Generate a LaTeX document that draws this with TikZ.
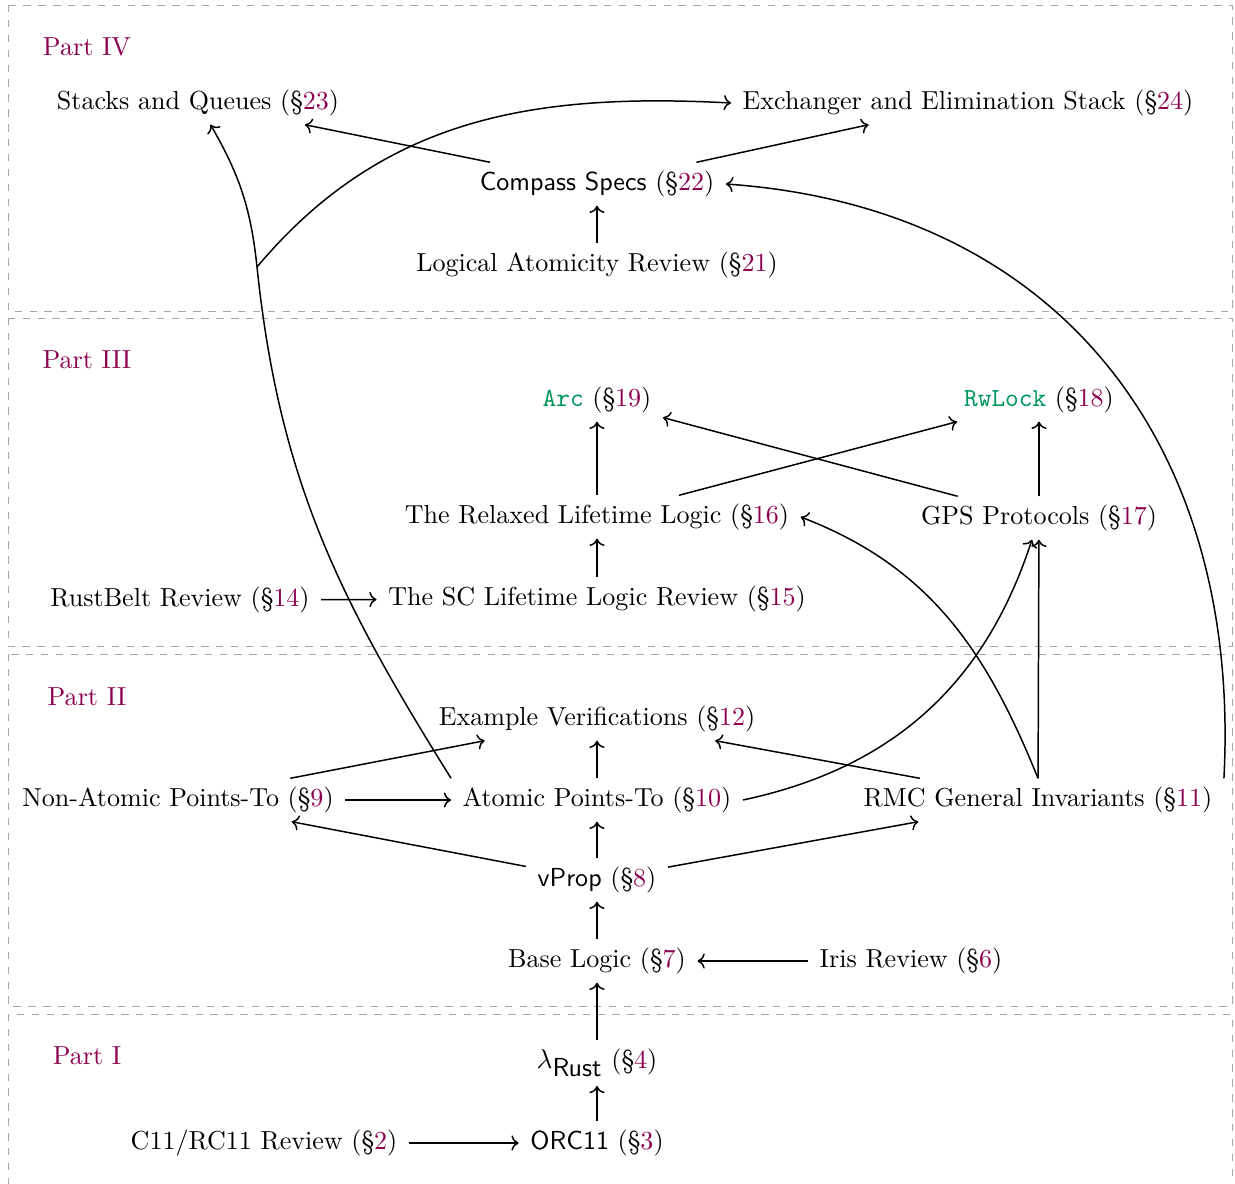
\documentclass[tikz,border=0pt]{standalone}
\usepackage{fontspec}
\usepackage{tikz}
\definecolor{secnum}{RGB}{140,0,80}
\definecolor{codegreen}{RGB}{0,150,90}
\newcommand*{\secn}[1]{(\S\textcolor{secnum}{#1})}
\newcommand*{\code}[1]{\textcolor{codegreen}{\texttt{#1}}}
\usetikzlibrary{arrows.meta}
\tikzstyle{topic} = [inner xsep=4.5pt, inner ysep=3.3pt, font=\fontsize{10.5}{12.6}\selectfont]
\tikzstyle{part} = [topic, text=secnum]
\tikzstyle{partbox} = [draw=black!35, dashed, thin]
\tikzstyle{link} = [->, semithick]

\begin{document}
\begin{tikzpicture}[x=0.403pt, y=0.403pt]
    \useasboundingbox (0,0) rectangle (1235,-1184);
    \clip (0,0) rectangle (1235,-1184);

    % Parts.
    \draw [partbox] (8,-5) rectangle (1232,-311);
    \draw [partbox] (8,-318) rectangle (1232,-646);
    \draw [partbox] (8,-654) rectangle (1232,-1006);
    \draw [partbox] (8,-1014) rectangle (1232,-1220);
    \node (part4) [part] at (87,-47) {Part IV};
    \node (part3) [part] at (87,-360) {Part III};
    \node (part2) [part] at (87,-697) {Part II};
    \node (part1) [part] at (87,-1056) {Part I};

    % Part IV.
    \node (stacks) [topic] at (198,-103) {Stacks and Queues \secn{23}};
    \node (exch) [topic] at (968,-103) {Exchanger and Elimination Stack \secn{24}};
    \node (compass) [topic] at (597,-184) {\textsf{Compass Specs} \secn{22}};
    \node (logat) [topic] at (597,-265) {Logical Atomicity Review \secn{21}};

    % Part III.
    \node (arc) [topic] at (597,-400) {\code{Arc} \secn{19}};
    \node (rwlock) [topic] at (1039,-400) {\code{RwLock} \secn{18}};
    \node (relaxed) [topic] at (597,-517) {The Relaxed Lifetime Logic \secn{16}};
    \node (gps) [topic] at (1039,-518) {GPS Protocols \secn{17}};
    \node (rustbelt) [topic] at (180,-600) {RustBelt Review \secn{14}};
    \node (sclt) [topic] at (597,-599) {The SC Lifetime Logic Review \secn{15}};

    % Part II.
    \node (examples) [topic] at (597,-719) {Example Verifications \secn{12}};
    \node (nonatomic) [topic] at (178,-800) {Non-Atomic Points-To \secn{9}};
    \node (atomic) [topic] at (597,-800) {Atomic Points-To \secn{10}};
    \node (rmc) [topic] at (1038,-800) {RMC General Invariants \secn{11}};
    \node (vprop) [topic] at (597,-880) {\textsf{vProp} \secn{8}};
    \node (baselogic) [topic] at (597,-961) {Base Logic \secn{7}};
    \node (iris) [topic] at (911,-961) {Iris Review \secn{6}};

    % Part I.
    \node (lrust) [topic] at (597,-1063) {$\lambda_{\textsf{Rust}}$ \secn{4}};
    \node (c11) [topic] at (264,-1143) {C11/RC11 Review \secn{2}};
    \node (orc) [topic] at (597,-1143) {\textsf{ORC11} \secn{3}};
    \coordinate (branch) at (257,-267);

    % Arrows.
    \draw [link] (c11) -- (orc);
    \draw [link] (orc) -- (lrust);
    \draw [link] (lrust) -- (baselogic);
    \draw [link] (iris) -- (baselogic);
    \draw [link] (baselogic) -- (vprop);
    \draw [link] (vprop) -- (atomic);
    \draw [link] (vprop) -- (nonatomic);
    \draw [link] (vprop) -- (rmc);
    \draw [link] (nonatomic) -- (atomic);
    \draw [link] (nonatomic) -- (examples);
    \draw [link] (atomic) -- (examples);
    \draw [link] (rmc) -- (examples);
    \draw [link] (rustbelt) -- (sclt);
    \draw [link] (sclt) -- (relaxed);
    \draw [link] (relaxed) -- (arc);
    \draw [link] (relaxed) -- (rwlock);
    \draw [link] (gps) -- (arc);
    \draw [link] (gps) -- (rwlock);
    \draw [link] (rmc) -- (gps);
    \draw [link] (atomic.east) to [out=12, in=-108] (gps);
    \draw [link] (rmc.north) to [out=112, in=-21] (relaxed.east);
    \draw [link] (logat) -- (compass);
    \draw [link] (compass) -- (stacks);
    \draw [link] (compass) -- (exch);
    \draw [link] (rmc.north east) to [out=87, in=-4, looseness=1.1] (compass.east);
    \draw [link] (atomic.north west) to [out=122, in=-84] (branch)
        to [out=96, in=-60] (stacks);
    \draw [link] (branch) to [out=50, in=177] (exch.west);
\end{tikzpicture}
\end{document}
